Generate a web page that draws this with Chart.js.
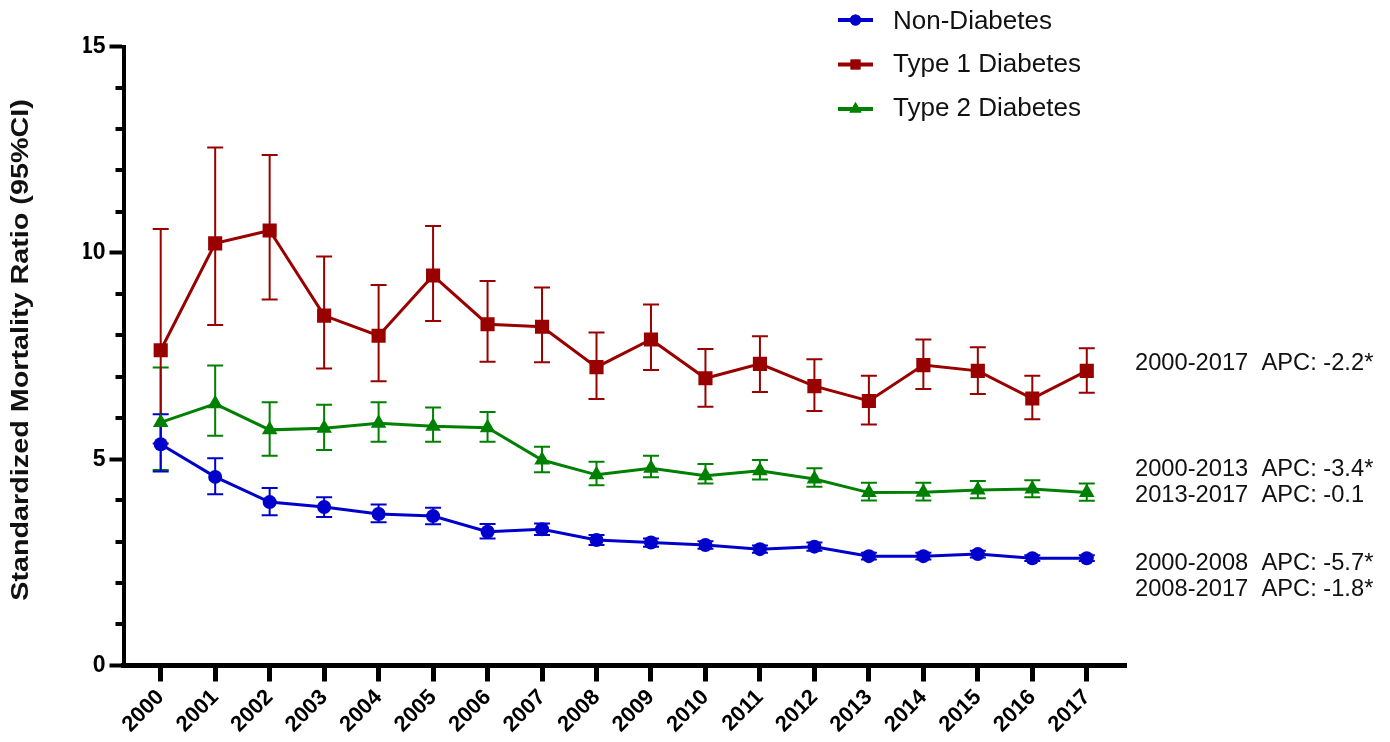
<!DOCTYPE html>
<html><head><meta charset="utf-8">
<script src="https://cdn.jsdelivr.net/npm/chart.js@4.4.1/dist/chart.umd.min.js"></script>
<style>html,body{margin:0;padding:0;background:#fff}#wrap{width:1390px;height:742px}</style>
</head><body><div id="wrap"><canvas id="c" width="1390" height="742"></canvas></div>
<script>
// ---- data ----
const years = [2000,2001,2002,2003,2004,2005,2006,2007,2008,2009,2010,2011,2012,2013,2014,2015,2016,2017];
const seriesNames = ['Non-Diabetes','Type 1 Diabetes','Type 2 Diabetes'];

const nonDiab   = [5.36,4.57,3.96,3.84,3.67,3.62,3.24,3.30,3.04,2.98,2.92,2.82,2.88,2.65,2.65,2.70,2.60,2.60];
const nonDiabLo = [4.70,4.15,3.64,3.60,3.47,3.42,3.08,3.16,2.92,2.88,2.83,2.73,2.78,2.57,2.57,2.62,2.53,2.53];
const nonDiabHi = [6.09,5.02,4.30,4.08,3.90,3.82,3.43,3.44,3.16,3.08,3.01,2.91,2.98,2.73,2.73,2.78,2.67,2.67];

const type1   = [7.64,10.23,10.54,8.48,7.99,9.45,8.27,8.21,7.23,7.90,6.96,7.31,6.77,6.41,7.28,7.14,6.47,7.14];
const type1Lo = [5.38,8.25,8.87,7.20,6.89,8.35,7.36,7.35,6.46,7.16,6.27,6.63,6.17,5.84,6.70,6.58,5.97,6.61];
const type1Hi = [10.58,12.55,12.37,9.91,9.22,10.65,9.32,9.16,8.07,8.75,7.67,7.98,7.42,7.02,7.90,7.71,7.02,7.69];

const type2   = [5.89,6.34,5.71,5.75,5.87,5.80,5.76,4.98,4.62,4.78,4.60,4.72,4.52,4.19,4.20,4.25,4.28,4.19];
const type2Lo = [4.74,5.57,5.08,5.22,5.42,5.42,5.42,4.68,4.37,4.56,4.41,4.51,4.33,4.00,4.00,4.05,4.08,3.99];
const type2Hi = [7.22,7.27,6.38,6.32,6.38,6.25,6.14,5.30,4.94,5.08,4.88,4.98,4.78,4.43,4.43,4.47,4.49,4.41];

const yTickValues = [0,5,10,15];
const yTitle = 'Standardized Mortality Ratio (95%CI)';
const apcLabels = ['2000-2017  APC: -2.2*','2000-2013  APC: -3.4*','2013-2017  APC: -0.1','2000-2008  APC: -5.7*','2008-2017  APC: -1.8*'];

// ---- styles / layout (not data) ----
const COLORS = ['#0000CC','#990000','#008000'];
const STYLES = ['circle','rect','triangle'];
const RADII = [7,10,9];
const apcBaselines = [370,476,502,570,596];
const FONT = "'Liberation Sans', Arial, sans-serif";

const toXY = arr => arr.map((v,i)=>({x:years[i], y:v}));
const errs = [[nonDiabLo,nonDiabHi],[type1Lo,type1Hi],[type2Lo,type2Hi]];
const vals = [nonDiab,type1,type2];

const errorBarPlugin = {
  id:'errorBars',
  beforeDatasetsDraw(chart){
    const {ctx, scales:{x,y}} = chart;
    ctx.save();
    for (let d = vals.length-1; d >= 0; d--) {
      ctx.strokeStyle = COLORS[d];
      ctx.lineWidth = 2;
      const [lo,hi] = errs[d];
      years.forEach((yr,i)=>{
        const px = x.getPixelForValue(yr);
        const pl = y.getPixelForValue(lo[i]);
        const ph = y.getPixelForValue(hi[i]);
        ctx.beginPath();
        ctx.moveTo(px,pl); ctx.lineTo(px,ph);
        ctx.moveTo(px-8,pl); ctx.lineTo(px+8,pl);
        ctx.moveTo(px-8,ph); ctx.lineTo(px+8,ph);
        ctx.stroke();
      });
    }
    ctx.restore();
  }
};

const decorPlugin = {
  id:'decor',
  afterDraw(chart){
    const {ctx, scales:{y}, chartArea} = chart;
    ctx.save();
    // minor y ticks
    ctx.strokeStyle = '#000'; ctx.lineWidth = 4;
    for (let v = 1; v < 15; v++) {
      if (v % 5 === 0) continue;
      const py = Math.round(y.getPixelForValue(v));
      ctx.beginPath();
      ctx.moveTo(chartArea.left - 8, py); ctx.lineTo(chartArea.left, py);
      ctx.stroke();
    }
    // y axis title (stretched along its length)
    ctx.save();
    ctx.translate(22, 350);
    ctx.rotate(-Math.PI/2);
    ctx.scale(1.25,1);
    ctx.font = 'bold 23px ' + FONT;
    ctx.fillStyle = '#111';
    ctx.textAlign = 'center'; ctx.textBaseline = 'middle';
    ctx.fillText(yTitle, 0, 0);
    ctx.restore();
    // legend
    const rowsLine = [20, 64.5, 109];
    const rowsText = [28.5, 72, 115.5];
    const legR = [5.5, 7, 7];
    seriesNames.forEach((name,i)=>{
      ctx.strokeStyle = COLORS[i]; ctx.lineWidth = 4;
      ctx.beginPath(); ctx.moveTo(838, rowsLine[i]); ctx.lineTo(873, rowsLine[i]); ctx.stroke();
      ctx.fillStyle = COLORS[i];
      Chart.helpers.drawPoint(ctx, {pointStyle: STYLES[i], radius: legR[i], borderWidth: 0}, 855.5, rowsLine[i]);
      ctx.fill();
      ctx.fillStyle = '#111';
      ctx.font = '26px ' + FONT;
      ctx.textAlign = 'left'; ctx.textBaseline = 'alphabetic';
      ctx.fillText(name, 893, rowsText[i]);
    });
    // APC annotations
    ctx.font = '23.7px ' + FONT;
    ctx.fillStyle = '#111';
    apcLabels.forEach((t,i)=>{ ctx.fillText(t, 1135, apcBaselines[i]); });
    ctx.restore();
  }
};

new Chart(document.getElementById('c'), {
  type:'line',
  data:{
    datasets: vals.map((v,i)=>({
      label: seriesNames[i],
      data: toXY(v),
      borderColor: COLORS[i],
      backgroundColor: COLORS[i],
      borderWidth: 3,
      pointStyle: STYLES[i],
      pointRadius: RADII[i],
      pointBorderWidth: 0,
      pointBackgroundColor: COLORS[i],
      tension: 0
    }))
  },
  options:{
    responsive:false,
    animation:false,
    devicePixelRatio:1,
    layout:{padding:{left:83.5, top:46.5, right:264, bottom:0}},
    plugins:{legend:{display:false}, tooltip:{enabled:false}},
    scales:{
      x:{
        type:'linear', min:1999.317, max:2017.72,
        afterFit(s){ s.height = 76.5; },
        border:{display:true, color:'#000', width:5},
        grid:{display:true, drawOnChartArea:false, drawTicks:true, tickLength:16, tickWidth:5, tickColor:'#000'},
        ticks:{stepSize:1, includeBounds:false, autoSkip:false, minRotation:45, maxRotation:45, padding:3,
          color:'#000', font:{family:FONT, size:22, weight:'bold'},
          callback:(v)=> years.includes(v) ? String(v) : ''}
      },
      y:{
        type:'linear', min:0, max:15,
        afterFit(s){ s.width = 40; },
        afterBuildTicks(s){ s.ticks = yTickValues.map(v=>({value:v})); },
        border:{display:true, color:'#000', width:4},
        grid:{display:true, drawOnChartArea:false, drawTicks:true, tickLength:14, tickWidth:4, tickColor:'#000'},
        ticks:{padding:4, color:'#000', font:{family:FONT, size:23, weight:'bold'}}
      }
    }
  },
  plugins:[errorBarPlugin, decorPlugin]
});
</script>
</body></html>
